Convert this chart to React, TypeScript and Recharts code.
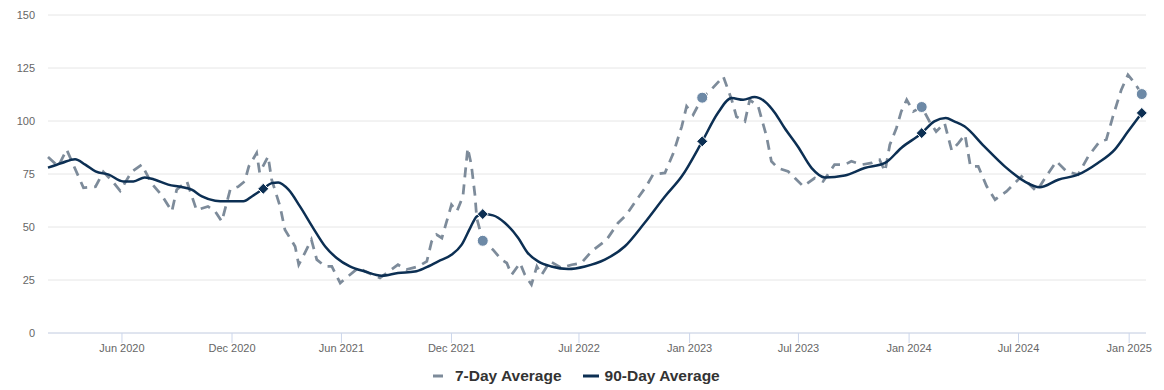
import React from "react";
import { ComposedChart, Line, Scatter, XAxis, YAxis, CartesianGrid } from "recharts";

// 7-day average
const SEVEN_DAY_DATES = [
  "2020-01-30", "2020-02-16", "2020-03-01", "2020-03-29", "2020-04-18", "2020-05-01", "2020-05-15", "2020-05-29",
  "2020-06-17", "2020-07-04", "2020-07-20", "2020-08-06", "2020-08-23", "2020-08-31", "2020-09-17", "2020-10-03",
  "2020-10-22", "2020-11-03", "2020-11-14", "2020-11-28", "2020-12-11", "2020-12-22", "2020-12-29", "2021-01-11",
  "2021-01-16", "2021-01-30", "2021-02-05", "2021-02-19", "2021-02-27", "2021-03-16", "2021-03-22", "2021-04-01",
  "2021-04-12", "2021-04-21", "2021-05-05", "2021-05-16", "2021-05-30", "2021-06-12", "2021-06-29", "2021-07-16",
  "2021-08-04", "2021-09-03", "2021-09-17", "2021-10-07", "2021-10-21", "2021-10-29", "2021-11-06", "2021-11-15",
  "2021-11-23", "2021-12-01", "2021-12-10", "2021-12-20", "2021-12-28", "2022-01-03", "2022-01-09", "2022-01-12",
  "2022-01-22", "2022-02-08", "2022-02-22", "2022-03-03", "2022-03-11", "2022-03-25", "2022-04-02", "2022-04-13",
  "2022-04-22", "2022-04-30", "2022-05-14", "2022-06-02", "2022-06-19", "2022-07-05", "2022-07-22", "2022-08-16",
  "2022-09-04", "2022-09-18", "2022-10-05", "2022-10-21", "2022-11-01", "2022-11-21", "2022-12-05", "2022-12-19",
  "2022-12-27", "2023-01-07", "2023-01-22", "2023-02-06", "2023-02-26", "2023-03-12", "2023-03-20", "2023-04-03",
  "2023-04-11", "2023-04-25", "2023-05-09", "2023-05-17", "2023-05-28", "2023-06-14", "2023-06-25", "2023-07-09",
  "2023-07-28", "2023-08-11", "2023-08-30", "2023-09-16", "2023-09-27", "2023-10-14", "2023-10-31", "2023-11-13",
  "2023-11-22", "2023-11-30", "2023-12-11", "2023-12-19", "2023-12-28", "2024-01-08", "2024-01-22", "2024-02-04",
  "2024-02-15", "2024-02-29", "2024-03-12", "2024-03-23", "2024-04-03", "2024-04-12", "2024-04-25", "2024-05-09",
  "2024-05-23", "2024-06-11", "2024-07-06", "2024-07-31", "2024-08-16", "2024-09-02", "2024-09-19", "2024-10-08",
  "2024-10-25", "2024-11-13", "2024-11-24", "2024-12-05", "2024-12-19", "2024-12-30", "2025-01-10", "2025-01-22",
];
const SEVEN_DAY_VALUES = [
  83, 78.6, 86.5, 68.5, 69, 76, 72, 67,
  76, 79.4, 70.7, 65, 57.4, 67.6, 71.5, 58,
  59.7, 57.4, 52.6, 67.6, 69, 71.5, 78.6, 84.9,
  75.6, 83.3, 72.3, 59.7, 48.7, 40.8, 32.2, 37.7,
  44, 34.6, 31.4, 31.4, 23.6, 26.7, 30.7, 28.3,
  26, 32.2, 29.9, 31.4, 33.8, 43.2, 46.4, 44.8,
  52.6, 60.5, 57.4, 64.4, 87.3, 79.4, 65.2, 54.2,
  43.5, 39.3, 34.6, 33, 27.5, 33, 27.5, 22.8,
  31.4, 27.5, 33.8, 30.7, 32.2, 33, 38.5, 44,
  51.9, 55.8, 62.9, 69.2, 74.7, 75.5, 84.9, 97.5,
  106.9, 103, 111, 114.8, 121, 110, 102, 99.8,
  110, 107, 92.7, 81, 77.8, 76.2, 73.1, 69.2,
  73.1, 71.5, 79.4, 79.4, 81, 79.4, 80.2, 81.7,
  76.2, 88.8, 96.7, 104.5, 110, 104.5, 106.6, 99.8,
  95, 99, 86, 89.6, 93.5, 78.6, 78.6, 69.2,
  62.9, 66.8, 73.9, 66.8, 73.9, 81, 76.2, 74.7,
  83.3, 90.4, 91.2, 102.2, 114.8, 121.8, 117.9, 112.7,
];

// 90-day average
const NINETY_DAY_DATES = [
  "2020-01-30", "2020-02-22", "2020-03-15", "2020-04-01", "2020-04-18", "2020-05-10", "2020-06-03", "2020-06-20",
  "2020-07-09", "2020-07-26", "2020-08-17", "2020-09-08", "2020-09-25", "2020-10-12", "2020-11-03", "2020-11-20",
  "2020-12-20", "2021-01-03", "2021-01-22", "2021-02-05", "2021-02-16", "2021-03-05", "2021-03-24", "2021-04-15",
  "2021-05-05", "2021-05-24", "2021-06-15", "2021-07-10", "2021-08-07", "2021-09-03", "2021-10-01", "2021-10-18",
  "2021-11-09", "2021-12-01", "2021-12-18", "2022-01-01", "2022-01-12", "2022-01-22", "2022-02-08", "2022-02-28",
  "2022-03-22", "2022-04-07", "2022-04-24", "2022-05-16", "2022-06-13", "2022-07-11", "2022-08-13", "2022-09-15",
  "2022-10-18", "2022-11-21", "2022-12-19", "2023-01-22", "2023-02-17", "2023-03-12", "2023-03-31", "2023-04-19",
  "2023-05-06", "2023-05-23", "2023-06-08", "2023-06-30", "2023-07-23", "2023-08-14", "2023-09-16", "2023-10-19",
  "2023-11-22", "2023-12-19", "2024-01-22", "2024-02-12", "2024-03-02", "2024-03-16", "2024-04-02", "2024-05-05",
  "2024-06-08", "2024-07-11", "2024-08-05", "2024-09-05", "2024-10-08", "2024-11-10", "2024-12-08", "2024-12-30",
  "2025-01-22",
];
const NINETY_DAY_VALUES = [
  78, 80.2, 82, 79.4, 76.2, 74.7, 71.5, 71.5,
  73.4, 72.3, 70, 68.9, 67.6, 64.4, 62.4, 62.1,
  62.1, 64.4, 68, 70.7, 71, 67.6, 59.7, 49.5,
  40.8, 35.4, 31.4, 29, 27, 28.3, 29, 30.7,
  33.8, 36.9, 41.7, 49.5, 55, 56.1, 55.5, 51.9,
  44.8, 37.7, 33.8, 31.4, 30.2, 31.4, 34.6, 40.8,
  51.9, 64.4, 73.9, 90.4, 103.8, 110.8, 110, 111.3,
  109.2, 103.8, 96.7, 88, 77.8, 73.4, 74.3, 77.8,
  80.2, 87.3, 94.3, 99.8, 101.4, 99.8, 97.5, 88,
  78.6, 71.5, 68.7, 72.3, 74.7, 80.2, 86.5, 95,
  103.8,
];

// highlighted points
const DIAMOND_DATES = ["2021-01-22", "2022-01-22", "2023-01-22", "2024-01-22", "2025-01-22"];
const DIAMOND_VALUES = [68, 56.1, 90.4, 94.3, 103.8];
const CIRCLE_DATES = ["2022-01-22", "2023-01-22", "2024-01-22", "2025-01-22"];
const CIRCLE_VALUES = [43.5, 111, 106.6, 112.7];

const TICK_DATES = [
  "2020-06-01", "2020-12-01", "2021-06-01", "2021-12-01", "2022-07-01",
  "2023-01-01", "2023-07-01", "2024-01-01", "2024-07-01", "2025-01-01",
];
const TICK_LABELS = [
  "Jun 2020", "Dec 2020", "Jun 2021", "Dec 2021", "Jul 2022",
  "Jan 2023", "Jul 2023", "Jan 2024", "Jul 2024", "Jan 2025",
];
const Y_TICKS = [0, 25, 50, 75, 100, 125, 150];
const X_DOMAIN = ["2020-01-30", "2025-01-29"];

const NAVY = "#0c2f53";
const DASH_GRAY = "#7d8b9a";
const CIRCLE_COLOR = "#6d89a6";
const FONT = '"Liberation Sans", Arial, sans-serif';

const toPoints = (dates: string[], values: number[]) =>
  dates.map((d, i) => ({ t: Date.parse(d), v: values[i] }));

const sevenDay = toPoints(SEVEN_DAY_DATES, SEVEN_DAY_VALUES);
const ninetyDay = toPoints(NINETY_DAY_DATES, NINETY_DAY_VALUES);
const diamonds = toPoints(DIAMOND_DATES, DIAMOND_VALUES);
const circles = toPoints(CIRCLE_DATES, CIRCLE_VALUES);
const tickTs = TICK_DATES.map((d) => Date.parse(d));

function DiamondShape(props: any) {
  const { cx, cy } = props;
  const r = 5.5;
  return (
    <path
      d={`M${cx},${cy - r}L${cx + r},${cy}L${cx},${cy + r}L${cx - r},${cy}Z`}
      fill={NAVY}
      stroke="#fff"
      strokeWidth={1}
    />
  );
}

function CircleShape(props: any) {
  const { cx, cy } = props;
  return <circle cx={cx} cy={cy} r={5.5} fill={CIRCLE_COLOR} stroke="#fff" strokeWidth={1} />;
}

function LegendRow() {
  const item = { display: "flex", alignItems: "center" } as const;
  const text = { fontSize: 15.5, fontWeight: 700, color: "#333", marginLeft: 6 };
  return (
    <div style={{ position: "absolute", left: 433, top: 367, display: "flex", fontFamily: FONT }}>
      <div style={item}>
        <svg width={16} height={12}>
          <line x1={0} y1={6} x2={10} y2={6} stroke={DASH_GRAY} strokeWidth={3} />
        </svg>
        <span style={text}>7-Day Average</span>
      </div>
      <div style={{ ...item, marginLeft: 21 }}>
        <svg width={16} height={12}>
          <line x1={0} y1={6} x2={16} y2={6} stroke={NAVY} strokeWidth={3} />
        </svg>
        <span style={text}>90-Day Average</span>
      </div>
    </div>
  );
}

export default function App() {
  return (
    <div style={{ position: "absolute", left: 0, top: 0, width: 1164, height: 390, background: "#fff", fontFamily: FONT }}>
      <ComposedChart width={1164} height={390} margin={{ top: 15, right: 18, left: 0, bottom: 27 }}>
        <CartesianGrid vertical={false} stroke="#e6e6e6" />
        <XAxis
          dataKey="t"
          type="number"
          domain={X_DOMAIN.map((d) => Date.parse(d))}
          ticks={tickTs}
          interval={0}
          tickFormatter={(t: number) => TICK_LABELS[tickTs.indexOf(t)] ?? ""}
          tick={{ fill: "#666", fontSize: 11 }}
          axisLine={{ stroke: "#ccd6eb" }}
          tickLine={{ stroke: "#ccd6eb" }}
          tickSize={10}
          tickMargin={1}
          height={30}
        />
        <YAxis
          type="number"
          domain={[0, 150]}
          ticks={Y_TICKS}
          interval={0}
          tick={{ fill: "#666", fontSize: 11 }}
          axisLine={false}
          tickLine={false}
          tickMargin={7}
          width={48}
        />
        <Line
          data={sevenDay}
          dataKey="v"
          type="linear"
          stroke={DASH_GRAY}
          strokeWidth={2.75}
          strokeDasharray="10 7"
          dot={false}
          activeDot={false}
          isAnimationActive={false}
        />
        <Line
          data={ninetyDay}
          dataKey="v"
          type="monotone"
          stroke={NAVY}
          strokeWidth={2.5}
          dot={false}
          activeDot={false}
          isAnimationActive={false}
        />
        <Scatter data={circles} dataKey="v" shape={<CircleShape />} isAnimationActive={false} />
        <Scatter data={diamonds} dataKey="v" shape={<DiamondShape />} isAnimationActive={false} />
      </ComposedChart>
      <LegendRow />
    </div>
  );
}
